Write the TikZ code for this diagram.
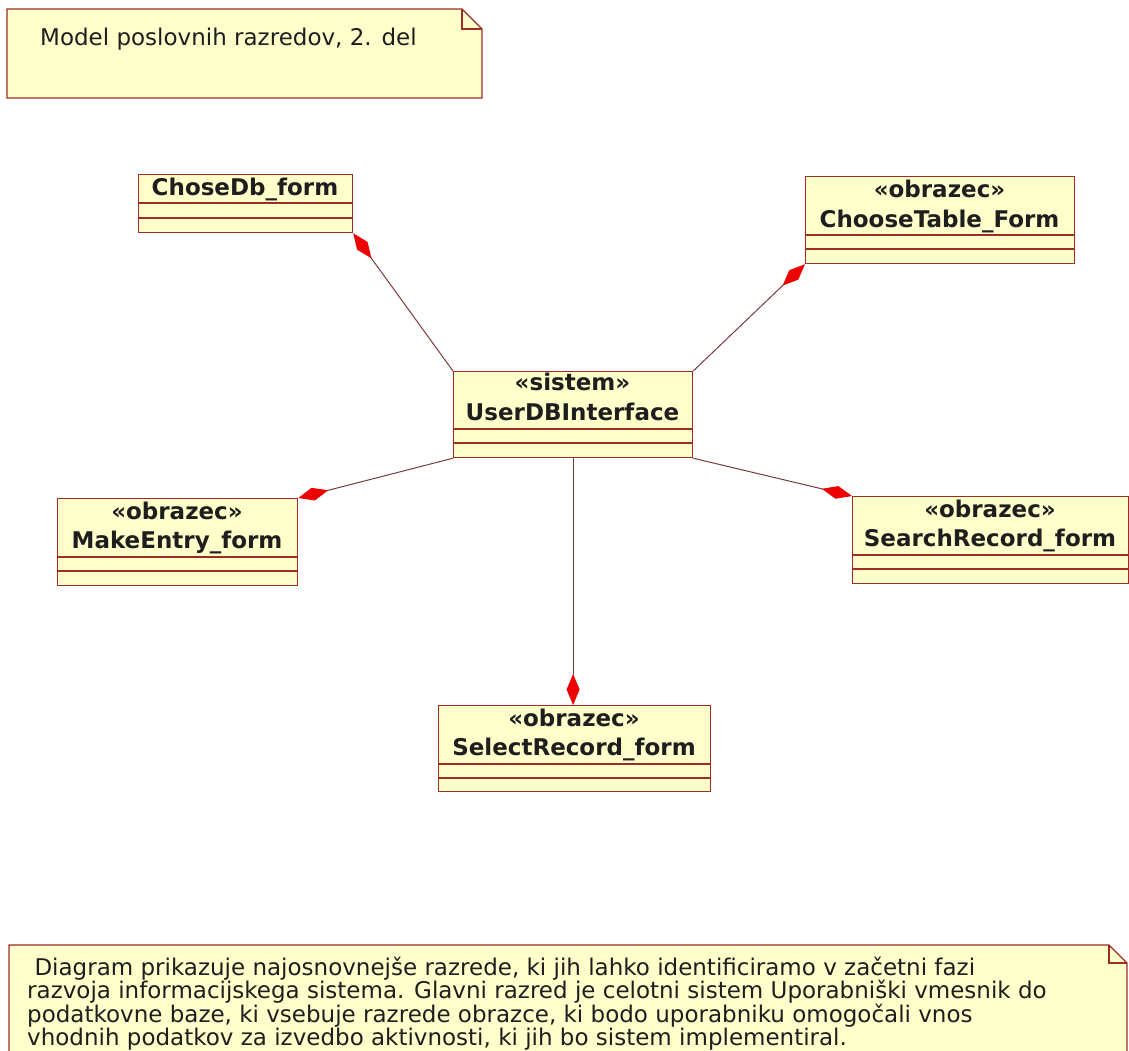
\documentclass[tikz,border=0pt]{standalone}
\usepackage{fontspec}
\setmainfont{DejaVu Sans}
\usetikzlibrary{arrows.meta}
\definecolor{paper}{HTML}{FFFFCC}
\definecolor{edge}{HTML}{9E2B25}
\definecolor{linkcol}{HTML}{7A3B3B}
\definecolor{diam}{HTML}{EE0000}
\definecolor{ink}{HTML}{1E1E1E}

% a UML class box: name, x, y (top left), width, height, two separator offsets
\newcommand\umlclass[7]{%
  \node[classbox, minimum width=#4pt, minimum height=#5pt, anchor=north west] (#1) at (#2,#3) {};
  \draw[sep] ([yshift=-#6pt]#1.north west) -- ([yshift=-#6pt]#1.north east);
  \draw[sep] ([yshift=-#7pt]#1.north west) -- ([yshift=-#7pt]#1.north east);
}

\begin{document}
\begin{tikzpicture}[x=1pt,y=-1pt,
  classbox/.style={draw=edge, fill=paper, line width=1.2pt, inner sep=0pt},
  notebox/.style={draw=edge, fill=paper, line width=1.2pt},
  sep/.style={draw=edge, line width=1.2pt},
  txt/.style={text=ink, font=\fontsize{23}{27}\selectfont, inner sep=0pt},
  btxt/.style={text=ink, font=\fontsize{23}{27}\selectfont\bfseries, inner sep=0pt, anchor=base},
  comp/.style={draw=linkcol, line width=1pt,
    -{Diamond[length=31pt,width=13pt,fill=diam,color=diam]}},
]
\useasboundingbox (0,0) rectangle (1129,1050);
\clip (0,0) rectangle (1129,1050);

% title note
\path[notebox] (7,9) -- (462,9) -- (482,29) -- (482,98) -- (7,98) -- cycle;
\draw[sep] (462,9) -- (462,29) -- (482,29);
\node[txt, anchor=base west] (title) at (40,45) {Model poslovnih razredov, 2. del};

% classes
\umlclass{chose}{138}{174}{214}{58}{29}{44}
\node[btxt] (choseN) at (245,195) {ChoseDb\_form};

\umlclass{table}{805}{176}{269}{87}{59}{73}
\node[btxt] (tableS) at (939.5,197) {«obrazec»};
\node[btxt] (tableN) at (939.5,227) {ChooseTable\_Form};

\umlclass{udb}{453}{371}{239}{86}{58}{72}
\node[btxt] (udbS) at (572.5,390) {«sistem»};
\node[btxt] (udbN) at (572.5,420) {UserDBInterface};

\umlclass{make}{57}{498}{240}{87}{59}{73}
\node[btxt] (makeS) at (177,519) {«obrazec»};
\node[btxt] (makeN) at (177,548) {MakeEntry\_form};

\umlclass{search}{852}{496}{276}{87}{59}{73}
\node[btxt] (searchS) at (990,517) {«obrazec»};
\node[btxt] (searchN) at (990,546) {SearchRecord\_form};

\umlclass{select}{438}{705}{272}{86}{59}{73}
\node[btxt] (selectS) at (574,726) {«obrazec»};
\node[btxt] (selectN) at (574,755) {SelectRecord\_form};

% composition links
\draw[comp] (udb.north west) -- (chose.south east);
\draw[comp] (udb.north east) -- (table.south west);
\draw[comp] (udb.south west) -- (make.north east);
\draw[comp] (udb.south east) -- (search.north west);
\draw[comp] (udb.south) -- (select.north -| udb.south);

% description note
\path[notebox] (9,945) -- (1109,945) -- (1127,963) -- (1127,1070) -- (9,1070) -- cycle;
\draw[sep] (1109,945) -- (1109,963) -- (1127,963);
\node[txt, anchor=base west] (d1) at (27,975) {\ Diagram prikazuje najosnovnejše razrede, ki jih lahko identificiramo v začetni fazi};
\node[txt, anchor=base west] (d2) at (27,998.5) {razvoja informacijskega sistema. Glavni razred je celotni sistem Uporabniški vmesnik do};
\node[txt, anchor=base west] (d3) at (27,1022) {podatkovne baze, ki vsebuje razrede obrazce, ki bodo uporabniku omogočali vnos};
\node[txt, anchor=base west] (d4) at (27,1045) {vhodnih podatkov za izvedbo aktivnosti, ki jih bo sistem implementiral.};
\end{tikzpicture}
\end{document}
